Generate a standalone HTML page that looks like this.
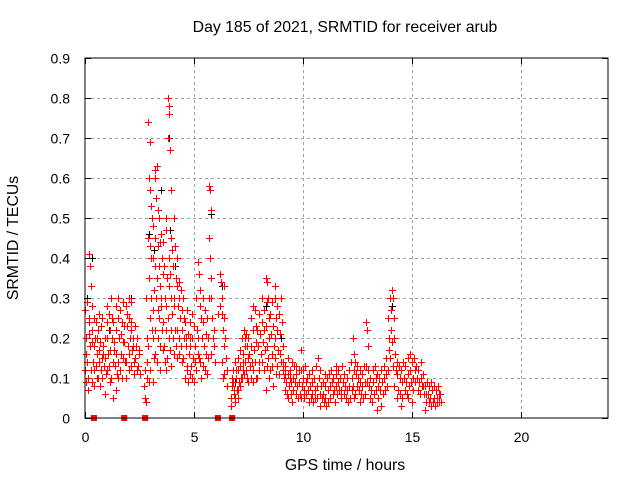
<!DOCTYPE html>
<html><head><meta charset="utf-8"><style>
html,body{margin:0;padding:0;background:#fff}
svg{display:block;font-family:"Liberation Sans",sans-serif}
</style></head><body>
<svg id="chart" width="640" height="480" viewBox="0 0 640 480" xmlns="http://www.w3.org/2000/svg">
<rect x="0" y="0" width="640" height="480" fill="#fff"/>
<text x="345" y="32" font-size="15.8" text-anchor="middle">Day 185 of 2021, SRMTID for receiver arub</text>
<text transform="translate(18,238) rotate(-90)" font-size="15.8" text-anchor="middle">SRMTID / TECUs</text>
<text x="345" y="470" font-size="15.8" text-anchor="middle">GPS time / hours</text>
<g id="grid"></g>
<g id="ticks"></g>
<g id="marks"></g>
<rect x="85" y="58" width="523" height="360" fill="none" stroke="#000" stroke-width="1"/>
</svg>
<script>
const xTicks = [0,5,10,15,20];
const yTicks = [0,0.1,0.2,0.3,0.4,0.5,0.6,0.7,0.8,0.9];
const yTickLabels = ["0","0.1","0.2","0.3","0.4","0.5","0.6","0.7","0.8","0.9"];
const times = [0.0,0.1,0.2,0.3,0.4,0.5,0.6,0.7,0.8,0.9,1.0,1.1,1.2,1.3,1.4,1.5,1.6,1.7,1.8,1.9,2.0,2.1,2.2,2.3,2.4,2.5,2.7,2.8,2.9,3.0,3.1,3.2,3.3,3.4,3.5,3.6,3.7,3.8,3.9,4.0,4.1,4.2,4.3,4.4,4.5,4.6,4.7,4.8,4.9,5.0,5.1,5.2,5.3,5.4,5.5,5.6,5.7,5.8,5.9,6.1,6.2,6.3,6.4,6.5,6.7,6.8,6.9,7.0,7.1,7.2,7.3,7.4,7.5,7.6,7.7,7.8,7.9,8.0,8.1,8.2,8.3,8.4,8.5,8.6,8.7,8.8,8.9,9.0,9.1,9.2,9.3,9.4,9.5,9.6,9.7,9.8,9.9,10.0,10.1,10.2,10.3,10.4,10.5,10.6,10.7,10.8,10.9,11.0,11.1,11.2,11.3,11.4,11.5,11.6,11.7,11.8,11.9,12.0,12.1,12.2,12.3,12.4,12.5,12.6,12.7,12.8,12.9,13.0,13.1,13.2,13.3,13.4,13.5,13.6,13.7,13.8,13.9,14.0,14.1,14.2,14.3,14.4,14.5,14.6,14.7,14.8,14.9,15.0,15.1,15.2,15.3,15.4,15.5,15.6,15.7,15.8,15.9,16.0,16.1,16.2,16.3];
const values = [
[.27,.09,.16,.12,.2],[.29,.1,.21,.14,.07,.24],[.41,.38,.33,.25,.18,.12],[.28,.22,.14,.09,.19],[.18,.12,.2,.08,.25],
[.24,.16,.1,.13,.2],[.22,.14,.17,.1,.26],[.19,.12,.15,.08,.23],[.25,.18,.13,.1,.16],[.2,.15,.11,.06],
[.28,.2,.16,.12,.24],[.26,.22,.17,.13,.09],[.3,.2,.14,.1,.25],[.24,.19,.13,.05,.17],[.22,.16,.11,.07,.28],
[.3,.25,.2,.14,.1],[.27,.21,.16,.12],[.24,.19,.15,.1,.29],[.19,.14,.1,.23],[.28,.23,.18,.14,.26],
[.3,.25,.2,.16,.12],[.29,.22,.17,.13,.24],[.2,.14,.11,.18],[.23,.18,.12,.15],[.2,.13,.17],[.16,.11],
[.08,.12,.05],[.04,.1,.2,.3,.14],[.45,.6,.69,.74,.35,.25,.18,.09],[.57,.53,.5,.43,.3,.22,.12,.4],
[.48,.4,.32,.27,.2,.15,.09],[.62,.6,.55,.45,.38,.3,.22,.16],[.63,.52,.43,.35,.27,.2,.14],[.5,.44,.33,.25,.18,.12,.38],
[.46,.4,.36,.3,.22,.17,.28],[.44,.38,.3,.24,.18,.14],[.5,.47,.35,.28,.22,.15,.12],[.8,.78,.76,.7,.4,.33,.25,.2],
[.67,.57,.45,.36,.3,.22,.17,.13],[.42,.38,.3,.26,.2,.16],[.5,.43,.35,.28,.22,.18],[.4,.33,.28,.22,.15],
[.34,.3,.25,.2,.16],[.32,.27,.22,.18,.14],[.3,.25,.2,.15],[.24,.18,.13,.1,.2],[.27,.21,.16,.12,.09],
[.24,.18,.13,.11,.2],[.26,.2,.15,.1],[.23,.18,.14,.09],[.3,.22,.16,.12],[.39,.36,.28,.2,.15],
[.32,.25,.2,.14,.1],[.3,.24,.18,.13],[.27,.21,.16,.12],[.25,.2,.15,.11],[.58,.57,.52,.45,.4,.35,.3],
[.3,.25,.2,.16],[.22,.18,.14],[.26],[.36,.34,.3,.28],[.26,.22,.18,.14,.1,.33],[.25,.2,.15,.11],[.12,.08],
[.05,.08,.1,.03],[.12,.06,.04,.09,.07],[.14,.1,.07,.05,.12],[.15,.12,.09,.07,.05],[.17,.13,.1,.08],
[.2,.16,.12,.1,.14],[.22,.18,.14,.11,.2],[.21,.18,.15,.12,.1],[.2,.16,.13,.09],[.25,.18,.14,.1],
[.28,.22,.17,.12,.09],[.27,.23,.19,.14,.1],[.22,.18,.14,.1],[.26,.21,.16,.12],[.3,.24,.19,.14],
[.27,.22,.17,.12],[.35,.34,.29,.23,.18,.13,.07],[.3,.25,.2,.15,.1],[.26,.21,.16,.12],[.29,.23,.18,.13,.08],
[.33,.3,.25,.2,.15,.11],[.28,.22,.17,.13],[.26,.21,.16,.11],[.3,.24,.18,.14],[.14,.1,.07,.12],
[.13,.09,.06,.11],[.15,.11,.08,.05],[.12,.09,.06,.1],[.14,.1,.07,.04],[.13,.09,.06],[.11,.08,.05,.13],
[.12,.09,.06],[.17,.12,.08,.05],[.1,.07,.05,.12],[.13,.09,.06],[.1,.07,.04],[.11,.08,.05],
[.09,.06,.04,.12],[.1,.07,.05],[.13,.08,.05],[.15,.1,.06],[.12,.08,.05,.03],[.09,.06,.04],
[.08,.05,.03,.11],[.1,.07,.04],[.11,.08,.05],[.12,.09,.06],[.1,.07,.04],[.11,.08,.06,.13],
[.12,.09,.07],[.1,.07,.05],[.13,.09,.06],[.11,.08,.05],[.1,.07,.04],[.12,.08,.05],[.14,.1,.07],
[.2,.16,.12,.08,.05],[.14,.11,.08,.06],[.13,.1,.07],[.12,.09,.06,.04],[.11,.08,.05],[.13,.09,.06],
[.24,.22,.18,.13,.09],[.12,.08,.05],[.1,.07,.04],[.12,.09,.06],[.13,.1,.07],[.11,.08,.05,.02],
[.1,.07,.03],[.12,.09,.06],[.13,.1,.07],[.15,.11,.08],[.25,.2,.17,.12],[.3,.27,.22,.15],
[.32,.3,.25,.19,.13],[.2,.16,.12,.08],[.14,.11,.07,.05],[.13,.1,.06],[.12,.09,.05,.03],[.14,.1,.07],
[.13,.09,.06],[.15,.11,.08,.05],[.16,.12,.09],[.14,.1,.07,.04],[.15,.12,.09],[.13,.1,.07],
[.12,.09,.06],[.14,.1,.08],[.11,.08,.06],[.08,.06,.04,.02],[.09,.06,.04],[.08,.05,.03],
[.09,.07,.04],[.08,.05,.03],[.07,.05,.04],[.08,.06,.04],[.06,.04]
];
const blackTimes = [0.1,0.3,1.1,2.1,2.95,3.15,3.5,3.85,3.9,4.15,5.8,6.3,6.9,8.3,9.0,14.1];
const blackValues = [0.3,0.4,0.22,0.3,0.46,0.42,0.57,0.7,0.47,0.38,0.51,0.33,0.09,0.28,0.2,0.28];
const zeroTimes = [0.41,1.8,2.76,6.1,6.75];

const X0=85,X1=608,Y0=418,Y1=58,XMAX=24,YMAX=0.9;
const xs = t => X0 + t/XMAX*(X1-X0);
const ys = v => Y0 - v/YMAX*(Y0-Y1);
const NS="http://www.w3.org/2000/svg";
function mk(tag, attrs){const e=document.createElementNS(NS,tag);for(const k in attrs)e.setAttribute(k,attrs[k]);return e;}
const grid=document.getElementById('grid'), ticks=document.getElementById('ticks'), marks=document.getElementById('marks');
xTicks.forEach((t,i)=>{
  const x=Math.round(xs(t))+0.5;
  if(i>0){const g=mk('line',{x1:x,x2:x,y1:Y1,y2:Y0,stroke:'#a0a0a0','stroke-dasharray':'3,3'});
  
  grid.appendChild(g);}
  const a=mk('line',{x1:x,x2:x,y1:Y0,y2:Y0-6,stroke:'#000'});
  
  ticks.appendChild(a);
  const b=mk('line',{x1:x,x2:x,y1:Y1,y2:Y1+6,stroke:'#000'});
  
  ticks.appendChild(b);
  const l=mk('text',{x:x,y:442,'font-size':14,'text-anchor':'middle'});l.textContent=String(t);
  
  ticks.appendChild(l);
});
yTicks.forEach((v,i)=>{
  const y=Math.round(ys(v))+0.5;
  if(i>0&&i<yTicks.length-1){const g=mk('line',{x1:X0,x2:X1,y1:y,y2:y,stroke:'#a0a0a0','stroke-dasharray':'3,3'});
  
  grid.appendChild(g);}
  const a=mk('line',{x1:X0,x2:X0+6,y1:y,y2:y,stroke:'#000'});
  
  ticks.appendChild(a);
  const b=mk('line',{x1:X1,x2:X1-6,y1:y,y2:y,stroke:'#000'});
  
  ticks.appendChild(b);
  const l=mk('text',{x:70,y:y+5,'font-size':14,'text-anchor':'end'});l.textContent=yTickLabels[i];
  
  ticks.appendChild(l);
});
function plus(x,y,col,name){
  const p=mk('path',{d:`M${x-3.5},${y}h7M${x},${y-3.5}v7`,stroke:col,'stroke-width':1,fill:'none'});
  
  
  marks.appendChild(p);
}
blackTimes.forEach((t,i)=>plus(Math.round(xs(t))+0.5,Math.round(ys(blackValues[i]))+0.5,'#000','black-point'));
times.forEach((t,i)=>{
  values[i].forEach((v,j)=>{
    const x=Math.round(xs(t)+(j%3)*0.7)+0.5;
    plus(x,Math.round(ys(v))+0.5,'#ff0000','srmtid-point');
  });
});
zeroTimes.forEach(t=>{
  const r=mk('rect',{x:xs(t)-3,y:Y0-3,width:6,height:6,fill:'#ff0000'});
  
  
  marks.appendChild(r);
});
</script>
</body></html>
